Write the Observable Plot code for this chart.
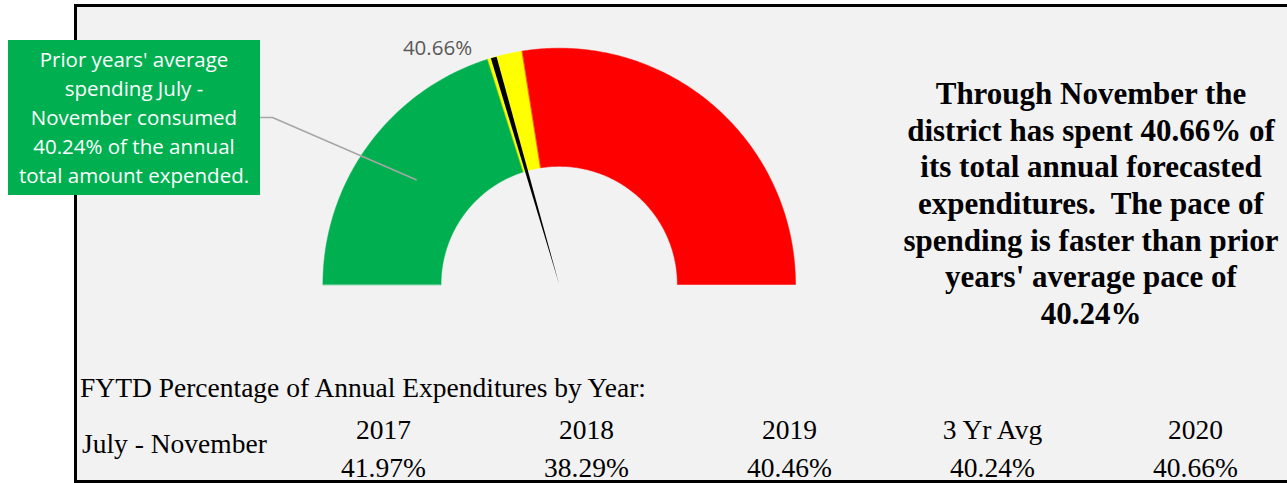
<!DOCTYPE html>
<html><head><meta charset="utf-8">
<script src="https://cdn.jsdelivr.net/npm/d3@7"></script>
<script src="https://cdn.jsdelivr.net/npm/@observablehq/plot@0.6"></script>
<style>
html,body{margin:0;padding:0;background:#fff;overflow:hidden;}
#root{position:relative;width:1287px;height:483px;overflow:hidden;}
#frame{position:absolute;left:74px;top:4px;width:1240px;height:479px;box-sizing:border-box;border:3px solid #000;background:#f2f2f2;}
#root svg{position:absolute;left:0;top:0;}
.abs{position:absolute;white-space:nowrap;}
#callout{left:8px;top:40px;width:252px;height:155px;background:#00b050;color:#fff;font-family:"Open Sans";font-size:20.5px;line-height:29px;text-align:center;box-sizing:border-box;padding-top:4.5px;}
#summary{left:891px;top:76px;width:400px;font-family:"Liberation Serif";font-weight:bold;font-size:31px;line-height:36.67px;text-align:center;color:#000;}
.tbl{font-family:"Liberation Serif";font-size:27.5px;line-height:32px;color:#000;}
</style>
</head><body>
<div id="root">
  <div id="frame"></div>
  <div id="callout" class="abs">Prior years' average<br>spending July -<br>November consumed<br>40.24% of the annual<br>total amount expended.</div>
  <div id="summary" class="abs">Through November the<br>district has spent 40.66% of<br>its total annual forecasted<br>expenditures.&nbsp; The pace of<br>spending is faster than prior<br>years' average pace of<br>40.24%</div>
  <div class="abs tbl" style="left:80px;top:371.7px;">FYTD Percentage of Annual Expenditures by Year:</div>
  <div class="abs tbl" style="left:82px;top:427.7px;">July - November</div>
</div>
<script>
// ---- data ----
const years = ["2017", "2018", "2019", "3 Yr Avg", "2020"];
const ytdPct = [41.97, 38.29, 40.46, 40.24, 40.66];
const bandNames = ["below average", "caution", "above"];
const bandEnds = [40.24, 45, 100];
const bandColors = ["#00b050", "#ffff00", "#ff0000"];
const currentPct = 40.66;
const needleWidth = 0.8;
const avgPct = 40.24;

// ---- layout ----
const CX = 558.7, CY = 284, R = 236.3, INNER = 0.5;
const theta = p => Math.PI * (1 - p / 100);
function wedge(p0, p1, r0, r1) {
  const pts = [];
  const n = Math.max(2, Math.ceil((p1 - p0) * 3));
  for (let i = 0; i <= n; i++) {
    const t = theta(p0 + (p1 - p0) * i / n);
    pts.push({x: r1 * Math.cos(t), y: r1 * Math.sin(t)});
  }
  if (r0 === 0) pts.push({x: 0, y: 0});
  else for (let i = n; i >= 0; i--) {
    const t = theta(p0 + (p1 - p0) * i / n);
    pts.push({x: r0 * Math.cos(t), y: r0 * Math.sin(t)});
  }
  return pts;
}
const bandStarts = [0, ...bandEnds.slice(0, -1)];
const bands = bandNames.map((name, i) => ({name, color: bandColors[i], pts: wedge(bandStarts[i], bandEnds[i], INNER, 1)}));
const needle = wedge(currentPct, currentPct + needleWidth, 0, 1);
const toX = px => (px - CX) / R, toY = py => (CY - py) / R;
const midT = theta(avgPct / 2), midR = (1 + INNER) / 2;
const leader = [
  {x: toX(260), y: toY(117)},
  {x: toX(272), y: toY(117)},
  {x: midR * Math.cos(midT), y: midR * Math.sin(midT)}
];
const label = [{x: toX(437), y: toY(54), t: currentPct.toFixed(2) + "%"}];

const gauge = Plot.plot({
  width: 1287, height: 483, margin: 0,
  style: {background: "transparent", overflow: "visible"},
  x: {domain: [-1, 1], range: [CX - R, CX + R], axis: null},
  y: {domain: [0, 1], range: [CY, CY - R], axis: null},
  marks: [
    ...bands.map(b => Plot.line(b.pts, {x: "x", y: "y", fill: b.color, stroke: b.color, strokeWidth: 0.5, curve: "linear-closed"})),
    Plot.line(needle, {x: "x", y: "y", fill: "#000", stroke: "none", curve: "linear-closed"}),
    Plot.line(leader, {x: "x", y: "y", stroke: "#a6a6a6", strokeWidth: 1.5}),
    Plot.text(label, {x: "x", y: "y", text: "t", fill: "#595959", fontSize: 20.5, fontFamily: "Open Sans", textAnchor: "middle", lineAnchor: "bottom"})
  ]
});

const table = Plot.plot({
  width: 1287, height: 483, margin: 0,
  style: {background: "transparent", overflow: "visible"},
  x: {type: "point", domain: years, range: [381, 1196], padding: 0, axis: null},
  y: {type: "point", domain: ["year", "value"], range: [438, 476], padding: 0, axis: null},
  marks: [
    Plot.text(years, {x: d => d, y: () => "year", text: d => d, fill: "#000", fontSize: 27.5, fontFamily: "Liberation Serif", lineAnchor: "bottom"}),
    Plot.text(ytdPct, {x: (d, i) => years[i], y: () => "value", text: d => d.toFixed(2) + "%", fill: "#000", fontSize: 27.5, fontFamily: "Liberation Serif", lineAnchor: "bottom"})
  ]
});

const root = document.getElementById("root");
const frame = document.getElementById("frame");
frame.after(gauge);
gauge.after(table);
</script>
</body></html>
